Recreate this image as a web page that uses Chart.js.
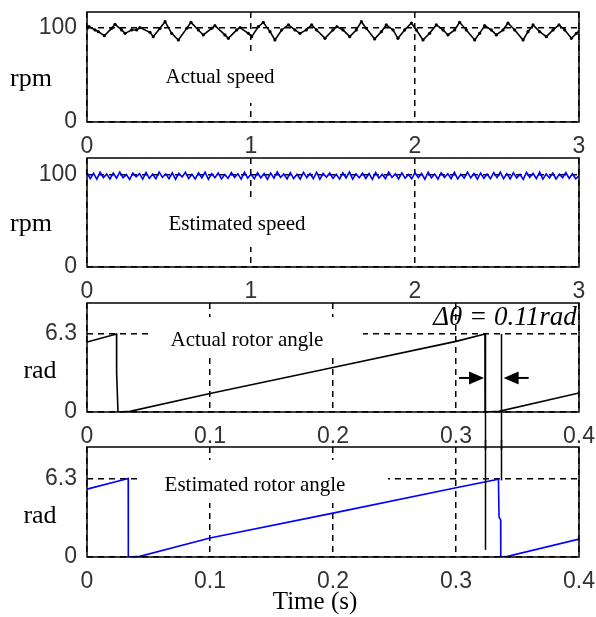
<!DOCTYPE html>
<html>
<head>
<meta charset="utf-8">
<script src="https://cdn.jsdelivr.net/npm/chart.js@4.4.1/dist/chart.umd.min.js"></script>
<style>
  html, body { margin: 0; padding: 0; background: #fff; }
  #page { position: relative; width: 596px; height: 617px; overflow: hidden; background: #fff; }
  #page canvas { position: absolute; left: 0; }
</style>
</head>
<body>
<div id="page">
  <canvas id="actualSpeed" width="596" height="160" style="top:0px"></canvas>
  <canvas id="estSpeed" width="596" height="155" style="top:150px"></canvas>
  <canvas id="actualAngle" width="596" height="155" style="top:295px"></canvas>
  <canvas id="estAngle" width="596" height="177" style="top:440px"></canvas>
</div>
<script>
// speed panels (time in s, speed in rpm)
const speedTicksX = [0, 1, 2, 3];
const speedTicksY = [0, 100];

const actualSpeedT = [
  0, 0.012, 0.049, 0.069, 0.106, 0.150, 0.171, 0.211, 0.232, 0.272,
  0.303, 0.323, 0.384, 0.404, 0.445, 0.476, 0.516, 0.557, 0.608, 0.634,
  0.679, 0.709, 0.760, 0.780, 0.841, 0.862, 0.913, 0.933, 0.984, 1.004,
  1.045, 1.075, 1.116, 1.146, 1.187, 1.228, 1.268, 1.299, 1.337, 1.370,
  1.400, 1.451, 1.500, 1.524, 1.561, 1.602, 1.642, 1.673, 1.703, 1.754,
  1.795, 1.825, 1.866, 1.896, 1.937, 1.978, 2.008, 2.049, 2.089, 2.130,
  2.171, 2.201, 2.242, 2.272, 2.313, 2.364, 2.394, 2.425, 2.465, 2.496,
  2.537, 2.567, 2.608, 2.659, 2.689, 2.720, 2.760, 2.801, 2.842, 2.878,
  2.913, 2.954, 2.984, 3.0
];
const actualSpeedRpm = [
  99.5, 101.4, 97.9, 96.1, 91.8, 99.6, 103.9, 97.9, 94.3, 97.9,
  97.9, 100.4, 95.4, 90.8, 99.6, 106.7, 94.3, 87.2, 99.6, 106.0,
  97.9, 92.6, 99.6, 102.5, 92.6, 89.0, 97.9, 100.4, 94.3, 90.8,
  101.4, 106.0, 96.1, 87.2, 97.9, 103.2, 97.9, 94.3, 97.9, 103.2,
  97.9, 89.0, 97.9, 101.4, 97.9, 90.8, 97.9, 106.7, 99.6, 88.3,
  96.1, 103.2, 97.9, 89.0, 97.9, 105.3, 97.9, 87.2, 94.3, 103.2,
  97.9, 92.6, 97.9, 106.0, 97.9, 87.2, 94.3, 102.5, 97.9, 92.6,
  97.9, 105.3, 97.9, 87.2, 96.1, 103.2, 96.1, 90.8, 97.9, 103.2,
  97.9, 89.0, 94.3, 96.1
];

// estimated speed, sampled every 20 ms from t = 0
const estSpeedStart = 0;
const estSpeedStep = 0.02;
const estSpeedRpm = [
  102.5, 96.0, 101.8, 95.5, 103.0, 97.2, 101.0, 95.8, 102.2, 96.5,
  103.1, 97.0, 100.5, 95.2, 102.0, 98.0, 101.5, 95.6, 102.8, 96.3,
  100.9, 95.9, 103.2, 97.5, 101.2, 96.0, 102.4, 95.4, 101.7, 97.8,
  102.9, 96.2, 100.8, 95.7, 102.3, 96.8, 103.0, 95.3, 101.4, 97.1,
  102.1, 95.8, 100.6, 96.4, 102.7, 97.3, 101.3, 95.5, 103.1, 96.7,
  100.9, 95.9, 102.5, 97.0, 101.6, 95.2, 102.0, 96.6, 103.3, 97.4,
  101.1, 95.7, 102.6, 96.1, 100.7, 95.6, 102.9, 97.2, 101.5, 96.0,
  103.0, 95.4, 101.8, 97.6, 102.2, 96.3, 100.8, 95.8, 102.4, 96.9,
  103.2, 95.5, 101.2, 97.0, 102.0, 96.2, 101.6, 95.3, 102.8, 96.7,
  100.9, 96.0, 103.1, 97.3, 101.4, 95.7, 102.3, 96.5, 100.6, 95.9,
  102.7, 97.1, 101.7, 95.4, 103.0, 96.8, 101.0, 95.6, 102.5, 97.4,
  101.3, 96.1, 102.9, 95.8, 100.8, 96.6, 103.2, 97.0, 101.6, 95.5,
  102.1, 96.4, 101.1, 95.9, 102.6, 97.2, 103.0, 96.0, 101.5, 95.7,
  102.4, 96.9, 100.7, 95.3, 102.8, 97.5, 101.9, 96.2, 103.1, 95.6,
  101.2, 96.8, 102.2, 95.8, 100.9, 97.1, 102.7, 96.3, 101.4, 95.9,
  99.0
];

// rotor angle panels (time in s, angle in rad)
const angleTicksX = [0, 0.1, 0.2, 0.3, 0.4];
const angleTicksY = [0, 6.3];

const actualAngleT   = [0, 0.0240, 0.0241, 0.0252, 0.0350, 0.1, 0.2, 0.3, 0.3236, 0.3237, 0.3350, 0.4];
const actualAngleRad = [5.65, 6.30, 3.15, 0, 0.05, 1.50, 3.60, 5.70, 6.30, 0, 0.05, 1.53];

const estAngleT   = [0, 0.0335, 0.0336, 0.0430, 0.1, 0.2, 0.3, 0.3345, 0.3350, 0.3363, 0.3364, 0.3420, 0.4];
const estAngleRad = [5.49, 6.35, 0, 0.05, 1.53, 3.55, 5.60, 6.30, 3.23, 3.0, 0, 0.05, 1.45];

// angle error marker between the two angle panels
const deltaLabel = "\u0394\u03b8 = 0.11rad";
const deltaT = [0.3236, 0.3363];
const deltaTopRad = 6.3;
const deltaArrowRad = 2.75;
const deltaEndRad = [0.57, 6.2];

const tickFont = { family: "Liberation Sans", size: 23 };
const tickColor = "#333";
const serif = '"Liberation Serif", "Times New Roman", serif';

function toPoints(xs, ys) {
  return xs.map((x, i) => ({ x: x, y: ys[i] }));
}

function drawArrow(ctx, tipX, y, dir) {
  // dir = 1 points right, -1 points left
  ctx.beginPath();
  ctx.moveTo(tipX - dir * 25, y);
  ctx.lineTo(tipX - dir * 12, y);
  ctx.stroke();
  ctx.beginPath();
  ctx.moveTo(tipX, y);
  ctx.lineTo(tipX - dir * 15, y - 6.5);
  ctx.lineTo(tipX - dir * 15, y + 6.5);
  ctx.closePath();
  ctx.fill();
}

function makeDecor(p) {
  return {
    id: "panelDecor",
    beforeDatasetsDraw(chart) {
      const ctx = chart.ctx;
      ctx.save();
      ctx.fillStyle = "#fff";
      p.boxes.forEach(b => ctx.fillRect(b.x, b.y - p.top, b.w, b.h));
      ctx.restore();
    },
    afterDraw(chart) {
      const ctx = chart.ctx;
      const a = chart.chartArea;
      const xs = chart.scales.x;
      const ys = chart.scales.y;
      ctx.save();
      ctx.setLineDash([]);
      ctx.strokeStyle = "#000";
      ctx.lineWidth = 1.5;
      ctx.strokeRect(a.left, a.top, a.right - a.left, a.bottom - a.top);

      ctx.fillStyle = "#000";
      ctx.textAlign = "center";
      ctx.textBaseline = "middle";
      p.texts.forEach(t => {
        ctx.font = t.font;
        ctx.fillText(t.text, t.x, t.y - p.top);
      });

      if (p.delta) {
        ctx.lineWidth = 1.5;
        deltaT.forEach((t, i) => {
          const x = Math.round(xs.getPixelForValue(t)) + 0.5;
          const y1 = p.delta === "upper" ? ys.getPixelForValue(deltaTopRad) : 0;
          const y2 = p.delta === "upper" ? chart.height : ys.getPixelForValue(deltaEndRad[i]);
          ctx.beginPath();
          ctx.moveTo(x, y1);
          ctx.lineTo(x, y2);
          ctx.stroke();
        });
        if (p.delta === "upper") {
          const ay = ys.getPixelForValue(deltaArrowRad);
          ctx.lineWidth = 2;
          drawArrow(ctx, xs.getPixelForValue(deltaT[0]) - 1, ay, 1);
          drawArrow(ctx, xs.getPixelForValue(deltaT[1]) + 3, ay, -1);
        }
      }
      ctx.restore();
    }
  };
}

// keep the plot box exactly where the layout puts it
function noLabelPadding(s) {
  s.paddingTop = 0;
  s.paddingBottom = 0;
  s.paddingLeft = 0;
  s.paddingRight = 0;
}

function buildPanel(p) {
  const xTicks = p.xTicks;
  return new Chart(document.getElementById(p.id), {
    type: "line",
    data: {
      datasets: [{
        data: p.points,
        borderColor: p.color,
        backgroundColor: p.color,
        borderWidth: 1.6,
        pointRadius: p.pointRadius || 0,
        pointBorderWidth: 0,
        pointBackgroundColor: p.color,
        tension: 0,
        fill: false
      }]
    },
    options: {
      responsive: false,
      animation: false,
      events: [],
      layout: { padding: { top: p.padTop, right: 17, left: 0, bottom: 0 } },
      plugins: {
        legend: { display: false },
        tooltip: { enabled: false }
      },
      scales: {
        x: {
          type: "linear",
          min: xTicks[0],
          max: xTicks[xTicks.length - 1],
          afterBuildTicks: s => { s.ticks = xTicks.map(v => ({ value: v })); },
          afterFit: s => { s.height = p.axisH; noLabelPadding(s); },
          ticks: {
            callback: v => String(v),
            font: tickFont,
            color: tickColor,
            padding: 11,
            maxRotation: 0,
            autoSkip: false
          },
          grid: { color: "#000", lineWidth: 1.5, drawTicks: false },
          border: { display: false, dash: [6, 5] }
        },
        y: {
          min: 0,
          max: p.yMax,
          afterBuildTicks: s => { s.ticks = p.yTicks.map(v => ({ value: v })); },
          afterFit: s => { s.width = 87; noLabelPadding(s); },
          ticks: {
            callback: v => String(v),
            font: tickFont,
            color: tickColor,
            padding: 10,
            autoSkip: false
          },
          grid: { color: "#000", lineWidth: 1.5, drawTicks: false },
          border: { display: false, dash: [6, 5] }
        }
      }
    },
    plugins: [makeDecor(p)]
  });
}

const labelFont = "21px " + serif;
const sideFont = "26px " + serif;

const panels = [
  {
    id: "actualSpeed", top: 0, padTop: 12, axisH: 38, yMax: 117,
    xTicks: speedTicksX, yTicks: speedTicksY, color: "#000", pointRadius: 1.6,
    points: toPoints(actualSpeedT, actualSpeedRpm),
    boxes: [{ x: 122, y: 53, w: 195, h: 50 }],
    texts: [
      { text: "Actual speed", x: 220, y: 77, font: labelFont },
      { text: "rpm", x: 31, y: 79, font: sideFont }
    ]
  },
  {
    id: "estSpeed", top: 150, padTop: 8, axisH: 38, yMax: 118.5,
    xTicks: speedTicksX, yTicks: speedTicksY, color: "#0000ff",
    points: estSpeedRpm.map((v, i) => ({ x: estSpeedStart + i * estSpeedStep, y: v })),
    boxes: [{ x: 147, y: 200, w: 193, h: 47 }],
    texts: [
      { text: "Estimated speed", x: 237, y: 224, font: labelFont },
      { text: "rpm", x: 31, y: 224, font: sideFont }
    ]
  },
  {
    id: "actualAngle", top: 295, padTop: 8, axisH: 38, yMax: 8.8,
    xTicks: angleTicksX, yTicks: angleTicksY, color: "#000",
    points: toPoints(actualAngleT, actualAngleRad),
    boxes: [{ x: 150, y: 317, w: 213, h: 41 }],
    texts: [
      { text: "Actual rotor angle", x: 247, y: 340, font: labelFont },
      { text: deltaLabel, x: 505, y: 318, font: "italic 27px " + serif },
      { text: "rad", x: 40, y: 371, font: sideFont }
    ],
    delta: "upper"
  },
  {
    id: "estAngle", top: 440, padTop: 7, axisH: 60, yMax: 8.9,
    xTicks: angleTicksX, yTicks: angleTicksY, color: "#0000ff",
    points: toPoints(estAngleT, estAngleRad),
    boxes: [{ x: 140, y: 460, w: 248, h: 43 }],
    texts: [
      { text: "Estimated rotor angle", x: 255, y: 485, font: labelFont },
      { text: "rad", x: 40, y: 516, font: sideFont },
      { text: "Time (s)", x: 315, y: 602, font: "25px " + serif }
    ],
    delta: "lower"
  }
];

panels.forEach(buildPanel);
</script>
</body>
</html>
